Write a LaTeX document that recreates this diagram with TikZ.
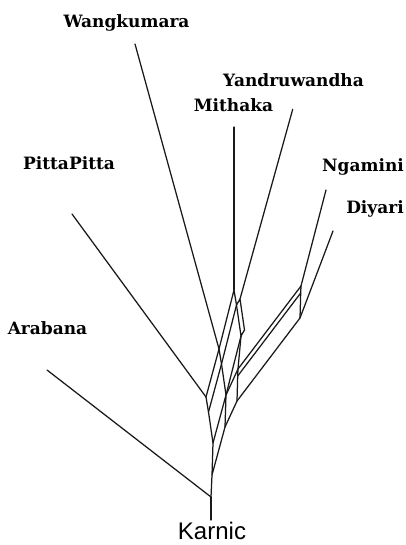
\documentclass[tikz,border=0pt]{standalone}
\usepackage{fontspec}
\newfontfamily\labelfont{DejaVu Serif}
\newfontfamily\rootfont{Liberation Sans}
\begin{document}
\begin{tikzpicture}[x=1pt,y=-1pt,
  edge/.style={line width=1.25pt, draw=black!90, line cap=round, line join=round},
  taxon/.style={anchor=base, inner sep=0pt, font=\labelfont\bfseries\fontsize{17}{20}\selectfont},
  rootlab/.style={anchor=base, inner sep=0pt, font=\rootfont\fontsize{24}{24}\selectfont}]
\useasboundingbox (0,0) rectangle (406,545);

% taxon labels
\node[taxon] (lW) at (126.5,28) {Wangkumara};
\node[taxon] (lY) at (293.5,87) {Yandruwandha};
\node[taxon] (lM) at (233.5,112) {Mithaka};
\node[taxon] (lP) at (69,170) {PittaPitta};
\node[taxon] (lN) at (363,172) {Ngamini};
\node[taxon] (lD) at (375,213) {Diyari};
\node[taxon] (lA) at (47.5,334) {Arabana};
\node[rootlab] (lR) at (212,539) {Karnic};

% leaf tips
\coordinate (tR) at (211,520);
\coordinate (tA) at (47,370);
\coordinate (tP) at (72,214);
\coordinate (tW) at (135,44);
\coordinate (tM) at (234,127);
\coordinate (tY) at (292.7,109.3);
\coordinate (tN) at (326,190);
\coordinate (tD) at (333,231);

% internal vertices of the split network
\coordinate (B0) at (211,497);
\coordinate (B1) at (212,475);
\coordinate (C1) at (213,443);
\coordinate (C2) at (225,427);
\coordinate (D1) at (226,395);
\coordinate (Q)  at (208.5,412);
\coordinate (P0) at (206,397);
\coordinate (W1) at (221.5,364);
\coordinate (W0) at (219,349);
\coordinate (M0) at (234,290);
\coordinate (M1) at (236.5,305);
\coordinate (Y0) at (240,299);
\coordinate (G)  at (241,336);
\coordinate (Y1) at (244.5,330);
\coordinate (E)  at (237,401);
\coordinate (H1) at (237.7,376);
\coordinate (F)  at (238,369);
\coordinate (D0) at (300,318);
\coordinate (H0) at (300.7,293);
\coordinate (N0) at (301,286);

% pendant edges
\draw[edge] (tR) -- (B0);
\draw[edge] (tA) -- (B0);
\draw[edge] (tP) -- (P0);
\draw[edge] (tW) -- (W0);
\draw[edge] (tM) -- (M0);
\draw[edge] (tY) -- (Y0);
\draw[edge] (tN) -- (N0);
\draw[edge] (tD) -- (D0);

% network edges
\draw[edge] (B0) -- (B1);
\draw[edge] (B1) -- (C1) -- (D1) -- (C2) -- (B1);
\draw[edge] (C1) -- (Q) -- (P0);
\draw[edge] (D1) -- (W1) -- (W0);
\draw[edge] (Q) -- (W1);
\draw[edge] (P0) -- (W0);
\draw[edge] (W0) -- (M0) -- (M1) -- (W1);
\draw[edge] (M1) -- (Y0) -- (Y1) -- (G) -- (M1);
\draw[edge] (D1) -- (G);
\draw[edge] (G) -- (F);
\draw[edge] (C2) -- (E) -- (H1) -- (F) -- (D1);
\draw[edge] (E) -- (D0) -- (H0) -- (N0) -- (F);
\draw[edge] (H1) -- (H0);
\end{tikzpicture}
\end{document}
